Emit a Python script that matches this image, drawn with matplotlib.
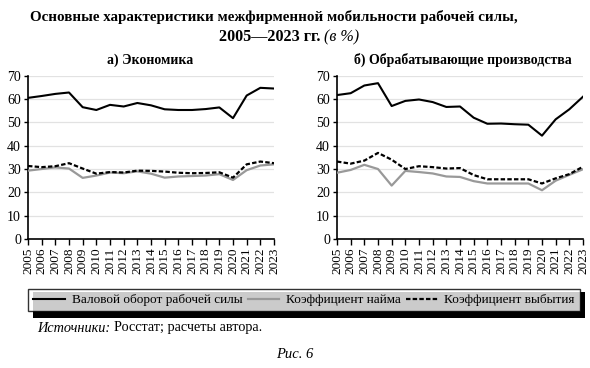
import matplotlib
matplotlib.use("Agg")
import matplotlib.pyplot as plt
from matplotlib.patches import Rectangle
from matplotlib.lines import Line2D

plt.rcParams['font.family'] = ['Liberation Serif', 'DejaVu Serif']

years = list(range(2005, 2024))

# а) Экономика
econ_gross = [60.5, 61.3, 62.2, 62.8, 56.5, 55.3, 57.5, 56.8, 58.3, 57.3, 55.6, 55.3, 55.3, 55.7, 56.4, 51.8, 61.5, 64.8, 64.5]
econ_hire = [29.3, 30.0, 30.7, 30.2, 26.2, 27.2, 28.5, 28.2, 29.0, 28.0, 26.3, 26.8, 27.0, 27.2, 27.8, 25.3, 29.5, 31.5, 32.0]
econ_exit = [31.3, 30.8, 31.2, 32.5, 30.2, 28.0, 28.7, 28.5, 29.3, 29.2, 28.9, 28.4, 28.2, 28.3, 28.6, 26.3, 32.0, 33.2, 32.5]

# б) Обрабатывающие производства
manuf_gross = [61.7, 62.5, 65.8, 66.8, 57.0, 59.2, 59.8, 58.7, 56.6, 56.8, 52.0, 49.4, 49.5, 49.2, 49.0, 44.3, 51.3, 55.6, 61.0]
manuf_hire = [28.4, 29.6, 31.8, 30.0, 22.9, 29.2, 28.7, 28.1, 26.8, 26.6, 24.8, 23.8, 23.8, 23.8, 23.8, 20.9, 25.0, 27.5, 29.9]
manuf_exit = [33.2, 32.3, 33.6, 36.9, 34.0, 30.0, 31.2, 30.8, 30.2, 30.4, 27.4, 25.6, 25.6, 25.6, 25.6, 23.8, 26.0, 27.8, 31.0]

yticks = [0, 10, 20, 30, 40, 50, 60, 70]
series_names = ["Валовой оборот рабочей силы", "Коэффициент найма", "Коэффициент выбытия"]
panel_titles = ["а) Экономика", "б) Обрабатывающие производства"]

W, H = 590, 368
fig = plt.figure(figsize=(W / 100, H / 100), dpi=100)
renderer = fig.canvas.get_renderer()

def fx(px):
    return px / W

def fy(py):
    return 1 - py / H

ax_bottom = fy(239)
ax_h = (239 - 75.7) / H
ax_w = (274 - 28) / W
axes = [fig.add_axes([fx(28), ax_bottom, ax_w, ax_h]),
        fig.add_axes([fx(337), ax_bottom, ax_w, ax_h])]

data = [(econ_gross, econ_hire, econ_exit), (manuf_gross, manuf_hire, manuf_exit)]

for ax, (g, h, e), title, cx in zip(axes, data, panel_titles, [150, 463]):
    ax.plot(years, h, color='#999999', lw=1.6, solid_joinstyle='round', zorder=3)
    ax.plot(years, e, color='black', lw=1.6, linestyle=(0, (2, 1)), zorder=4)
    ax.plot(years, g, color='black', lw=1.5, solid_joinstyle='round', zorder=5)
    ax.set_xlim(2005, 2023)
    ax.set_ylim(0, 70)
    ax.set_yticks(yticks)
    ax.set_xticks(years)
    ax.set_xticklabels([str(y) for y in years], rotation=90, fontsize=9.5)
    ax.tick_params(axis='y', labelsize=10, length=3, width=1, pad=2)
    ax.tick_params(axis='x', length=4, width=1, pad=2)
    ax.grid(axis='y', color='#e2e2e2', lw=0.9)
    ax.set_axisbelow(True)
    for s in ['top', 'right']:
        ax.spines[s].set_visible(False)
    for s in ['left', 'bottom']:
        ax.spines[s].set_color('black')
        ax.spines[s].set_linewidth(1.2)
    fig.text(fx(cx), fy(60), title, ha='center', va='center', fontsize=10, fontweight='bold')

def text_run(x_px, y_px, parts, size, center=False):
    """Draw consecutive text pieces on one baseline, measuring each."""
    texts = []
    x = x_px
    for s, kw in parts:
        t = fig.text(fx(x), fy(y_px), s, ha='left', va='center', fontsize=size, **kw)
        bb = t.get_window_extent(renderer=renderer)
        texts.append((t, x))
        x += bb.width
    if center:
        shift = (x - x_px) / 2
        for t, x0 in texts:
            t.set_x(fx(x0 - shift))

# Title
fig.text(fx(274), fy(17), "Основные характеристики межфирменной мобильности рабочей силы,",
         ha='center', va='center', fontsize=10.8, fontweight='bold')
text_run(289, 37, [("2005—2023 гг. ", dict(fontweight='bold')), ("(в %)", dict(style='italic'))], 11.6,
         center=True)

# Legend with black shadow
lx0, lx1, ly0, ly1 = 28, 580, 287, 313
sh = 5
fig.patches.append(Rectangle((fx(lx0 + sh), fy(ly1 + sh)), fx(lx1 - lx0), (ly1 - ly0) / H,
                             transform=fig.transFigure, facecolor='black', edgecolor='none', zorder=1))
handles = [Line2D([], [], color='black', lw=1.5),
           Line2D([], [], color='#999999', lw=1.6),
           Line2D([], [], color='black', lw=1.6, linestyle=(0, (2, 1)))]
leg = fig.legend(handles, series_names, loc='center', ncol=3,
                 bbox_to_anchor=(fx(lx0), fy(ly1), fx(lx1 - lx0), (ly1 - ly0) / H),
                 mode='expand', fontsize=9.5, frameon=True, fancybox=False,
                 handlelength=2.4, handletextpad=0.5, columnspacing=1.5, borderaxespad=0)
leg.get_frame().set_edgecolor('black')
leg.get_frame().set_linewidth(1.0)
leg.get_frame().set_facecolor('white')
leg.set_zorder(5)

# Footer
text_run(37, 328, [("Источники: ", dict(style='italic')), ("Росстат; расчеты автора.", {})], 10.3)
fig.text(0.5, fy(355), "Рис. 6", ha='center', va='center', fontsize=10.5, style='italic')

fig.savefig("out.png", dpi=100)
